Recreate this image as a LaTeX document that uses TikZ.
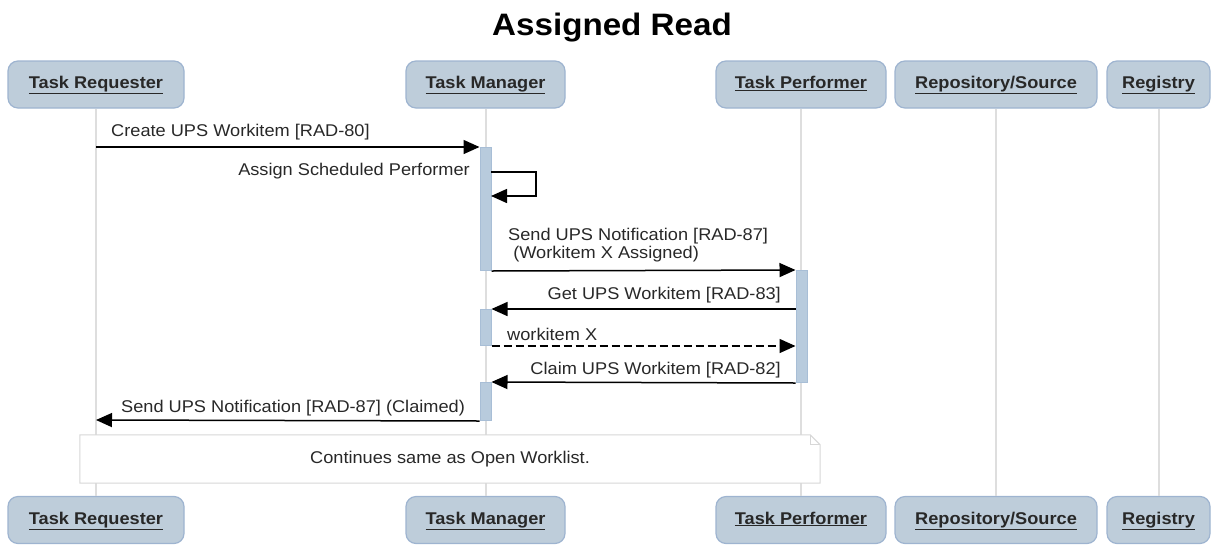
\documentclass[tikz,border=0pt]{standalone}
\usepackage{fontspec}
\setmainfont{Liberation Sans}[FakeStretch=1.07]
\usetikzlibrary{arrows.meta,calc}
\definecolor{boxfill}{RGB}{190,205,218}
\definecolor{boxdraw}{RGB}{158,180,208}
\definecolor{barfill}{RGB}{184,203,221}
\definecolor{bardraw}{RGB}{168,190,214}
\definecolor{lifegray}{RGB}{222,222,222}
\definecolor{notegray}{RGB}{215,215,215}
\definecolor{txt}{RGB}{40,40,40}
\begin{document}
\begin{tikzpicture}[x=1pt,y=-1pt,
  part/.style={draw=boxdraw, fill=boxfill, line width=1.2pt, rounded corners=10pt,
    minimum height=47pt, inner sep=0pt, text=txt, text height=12pt, text depth=4pt,
    font=\fontsize{17}{20}\selectfont\bfseries},
  life/.style={draw=lifegray, line width=2pt},
  actbar/.style={draw=bardraw, fill=barfill, line width=1pt, minimum width=11pt, inner sep=0pt},
  msg/.style={draw=black, line width=1.5pt, -{Triangle[length=16pt,width=14pt]}},
  dmsg/.style={msg, dash pattern=on 8pt off 4pt},
  lbl/.style={text=txt, inner sep=0pt, font=\fontsize{17}{18}\selectfont},
  notedraw/.style={draw=notegray, fill=white, line width=1pt}]
\useasboundingbox (0,0) rectangle (1212,544);

\node[font=\fontsize{31}{36}\selectfont\bfseries, text=black] (title) at (612,28) {Assigned Read};

% top participants
\node[part, minimum width=176pt] (tr) at (96,84.5) {\underline{Task Requester}};
\node[part, minimum width=159pt] (tm) at (485.5,84.5) {\underline{Task Manager}};
\node[part, minimum width=170pt] (tp) at (801,84.5) {\underline{Task Performer}};
\node[part, minimum width=202pt] (rs) at (996,84.5) {\underline{Repository/Source}};
\node[part, minimum width=103pt] (rg) at (1158.5,84.5) {\underline{Registry}};
% bottom participants
\node[part, minimum width=176pt] (trb) at (96,520) {\underline{Task Requester}};
\node[part, minimum width=159pt] (tmb) at (485.5,520) {\underline{Task Manager}};
\node[part, minimum width=170pt] (tpb) at (801,520) {\underline{Task Performer}};
\node[part, minimum width=202pt] (rsb) at (996,520) {\underline{Repository/Source}};
\node[part, minimum width=103pt] (rgb) at (1158.5,520) {\underline{Registry}};

% lifelines
\draw[life] (tr.south) -- (trb.north);
\draw[life] (tm.south) -- (tmb.north);
\draw[life] (tp.south) -- (tpb.north);
\draw[life] (rs.south) -- (rsb.north);
\draw[life] (rg.south) -- (rgb.north);

% activation bars
\node[actbar, minimum height=123pt, anchor=north] (a1) at (485.5,147) {};
\node[actbar, minimum height=36pt, anchor=north] (a2) at (485.5,309) {};
\node[actbar, minimum height=38pt, anchor=north] (a3) at (485.5,382) {};
\node[actbar, minimum height=112pt, anchor=north] (a4) at (801.5,270) {};

% message end points
\coordinate (c1) at (96,147);
\coordinate (s1) at (491,172);
\coordinate (s2) at (491,196);
\coordinate (c9) at (96,420);

% messages
\draw[msg] (c1) -- (a1.north west);
\node[lbl, anchor=west] (l1) at (111,132) {Create UPS Workitem [RAD-80]};

\draw[msg] (s1) -- ++(45,0) |- (s2);
\node[lbl, anchor=east] (l2) at (470,171) {Assign Scheduled Performer};

\draw[msg] (a1.south east) -- (a4.north west);
\node[lbl, anchor=west, align=left] (l3) at (508,245) {Send UPS Notification [RAD-87]\\\ (Workitem X Assigned)};

\draw[msg] (a4.west |- a2.north) -- (a2.north east);
\node[lbl, anchor=east] (l4) at (781,295) {Get UPS Workitem [RAD-83]};

\draw[dmsg] (a2.south east) -- (a4.west |- a2.south);
\node[lbl, anchor=west] (l5) at (507,334) {workitem X};

\draw[msg] (a4.south west) -- (a3.north east);
\node[lbl, anchor=east] (l6) at (781,370) {Claim UPS Workitem [RAD-82]};

\draw[msg] (a3.south west) -- (c9);
\node[lbl, anchor=west] (l7) at (121,408) {Send UPS Notification [RAD-87] (Claimed)};

% note
\node[minimum width=740pt, minimum height=48pt, inner sep=0pt] (note) at (450,459) {};
\draw[notedraw] (note.north west) -- ([xshift=-10pt]note.north east)
  -- ([yshift=-10pt]note.north east) -- (note.south east) -- (note.south west) -- cycle;
\draw[draw=notegray, line width=1pt] ([xshift=-10pt]note.north east) |- ([yshift=-10pt]note.north east);
\node[lbl] (notetext) at (note.center) {Continues same as Open Worklist.};
\end{tikzpicture}
\end{document}
